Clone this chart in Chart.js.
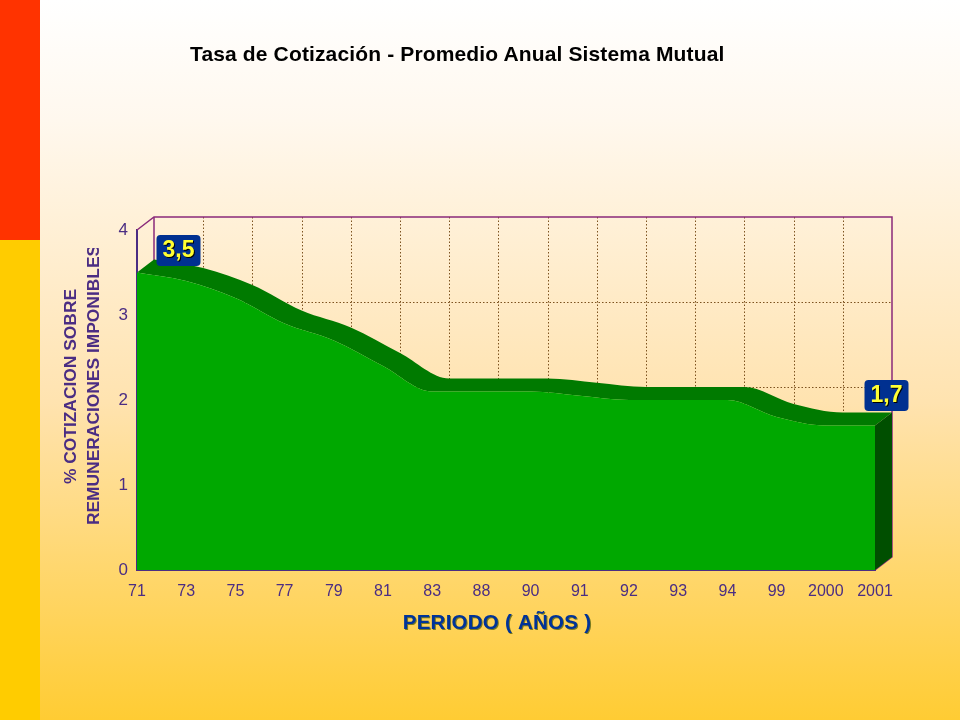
<!DOCTYPE html>
<html><head><meta charset="utf-8">
<script src="https://cdn.jsdelivr.net/npm/chart.js@4/dist/chart.umd.js"></script>
<style>
html,body{margin:0;padding:0;width:960px;height:720px;overflow:hidden}
#bg{position:absolute;left:0;top:0;width:960px;height:720px;background:linear-gradient(180deg,#ffffff 0,#fff8ee 120px,#ffe3b0 400px,#ffcc33 720px)}
#s1{position:absolute;left:0;top:0;width:40px;height:240px;background:#ff3300}
#s2{position:absolute;left:0;top:240px;width:40px;height:480px;background:#ffcc00}
#t{position:absolute;left:190px;top:42px;font:bold 21px "Liberation Sans",Arial,sans-serif;letter-spacing:.14px;color:#000;white-space:nowrap}
#wrap{position:absolute;left:0;top:0;width:960px;height:720px}
canvas{position:absolute;left:0;top:0;display:block}
</style></head><body>
<div id="bg"></div><div id="s1"></div><div id="s2"></div>
<div id="wrap"><canvas id="c" width="960" height="720"></canvas></div>
<div id="t">Tasa de Cotización - Promedio Anual Sistema Mutual</div>
<script>
const categories=['71','73','75','77','79','81','83','88','90','91','92','93','94','99','2000','2001'];
const rates=[3.5,3.4,3.2,2.9,2.7,2.4,2.1,2.1,2.1,2.05,2.0,2.0,2.0,1.8,1.7,1.7];
const yTicks=[0,1,2,3,4];
const labelled=[0,15];
const yTitleLines=['% COTIZACION SOBRE','REMUNERACIONES IMPONIBLES'];
const xTitle='PERIODO ( AÑOS )';
const DX=17,DY=-13,AXIS='#4b2d83';
const F='"Liberation Sans",Arial,sans-serif';

function curve(ctx,pts,dx,dy,rev){
  if(!rev){
    for(let i=1;i<pts.length;i++){const a=pts[i-1],b=pts[i];
      ctx.bezierCurveTo(a.cp2x+dx,a.cp2y+dy,b.cp1x+dx,b.cp1y+dy,b.x+dx,b.y+dy);}
  }else{
    for(let i=pts.length-1;i>0;i--){const a=pts[i-1],b=pts[i];
      ctx.bezierCurveTo(b.cp1x+dx,b.cp1y+dy,a.cp2x+dx,a.cp2y+dy,a.x+dx,a.y+dy);}
  }
}
const wall={id:'wall',
  beforeDatasetsDraw(ch){
    const c=ch.ctx,x=ch.scales.x,y=ch.scales.y,L=x.left,R=x.right,T=y.top,B=y.bottom;
    c.save();
    c.setLineDash([1.5,2]);c.lineWidth=1;c.strokeStyle='#7d5320';
    categories.forEach((k,i)=>{const px=Math.round(x.getPixelForValue(i))+DX+.5;
      if(i===0||i===categories.length-1)return;
      c.beginPath();c.moveTo(px,T+DY);c.lineTo(px,B+DY);c.stroke();});
    yTicks.forEach(v=>{if(v===0||v===4)return;const py=Math.round(y.getPixelForValue(v))+DY+.5;
      c.beginPath();c.moveTo(L+DX,py);c.lineTo(R+DX,py);c.stroke();});
    c.setLineDash([]);
    c.strokeStyle='#8a2a7a';c.lineWidth=1.5;
    c.beginPath();c.moveTo(L,T);c.lineTo(L+DX,T+DY);c.lineTo(R+DX,T+DY);c.lineTo(R+DX,B+DY);c.lineTo(R,B);c.stroke();
    c.beginPath();c.moveTo(L+DX,T+DY);c.lineTo(L+DX,B+DY);c.stroke();
    const pts=ch.getDatasetMeta(0).data;
    c.fillStyle='#007a00';
    c.beginPath();c.moveTo(pts[0].x,pts[0].y);curve(c,pts,0,0,false);
    const l=pts[pts.length-1];
    c.lineTo(l.x+DX,l.y+DY);curve(c,pts,DX,DY,true);c.closePath();c.fill();
    c.fillStyle='#004f00';
    c.beginPath();c.moveTo(l.x,l.y);c.lineTo(l.x+DX,l.y+DY);c.lineTo(R+DX,B+DY);c.lineTo(R,B);c.closePath();c.fill();
    c.restore();
  },
  afterDraw(ch){
    const c=ch.ctx,pts=ch.getDatasetMeta(0).data;
    c.save();
    c.fillStyle=AXIS;c.font='bold 17.4px '+F;c.textAlign='center';c.textBaseline='middle';
    c.save();c.beginPath();c.rect(55,248,47,300);c.clip();
    c.translate(71,386.5);c.rotate(-Math.PI/2);c.fillText(yTitleLines[0],0,0);
    c.restore();
    c.save();c.beginPath();c.rect(55,248,47,300);c.clip();
    c.translate(94,385);c.rotate(-Math.PI/2);c.fillText(yTitleLines[1],0,0);
    c.restore();
    c.font='bold 20.5px '+F;c.letterSpacing='.25px';c.fillStyle='#7a7a20';c.fillText(xTitle,498,624);
    c.fillStyle='#003399';c.fillText(xTitle,497,623);
    c.letterSpacing='0px';
    const off={0:[41.5,-22],15:[11.5,-30]};
    labelled.forEach(i=>{const p=pts[i],cx=p.x+off[i][0],cy=p.y+off[i][1];
      c.fillStyle='#003090';c.beginPath();c.roundRect(cx-22,cy-15.5,44,31,4);c.fill();
      const s=rates[i].toFixed(1).replace('.',',');
      c.font='bold 23px '+F;
      c.fillStyle='#000';c.fillText(s,cx+1,cy+1.5);
      c.fillStyle='#ffff33';c.fillText(s,cx,cy);});
    c.restore();
  }};
new Chart(document.getElementById('c'),{
  type:'line',
  data:{labels:categories,datasets:[{data:rates,fill:'origin',backgroundColor:'#00a800',borderWidth:0,pointRadius:0,cubicInterpolationMode:'monotone'}]},
  plugins:[wall],
  options:{responsive:false,animation:false,devicePixelRatio:1,
    layout:{padding:{left:0,top:230,right:85,bottom:0}},
    plugins:{legend:{display:false},title:{display:false},tooltip:{enabled:false}},
    scales:{
      x:{type:'category',offset:false,z:1,
        afterFit(a){a.height=150;},
        grid:{display:false,drawTicks:true,tickColor:AXIS,tickWidth:2,tickLength:6},
        border:{color:AXIS,width:2},
        ticks:{color:AXIS,font:{family:F,size:16},maxRotation:0,autoSkip:false,padding:6}},
      y:{min:0,max:4,z:1,
        afterFit(a){a.width=137;},
        afterBuildTicks(a){a.ticks=yTicks.map(v=>({value:v}));},
        grid:{display:false,tickColor:AXIS,tickWidth:2,tickLength:7},
        border:{color:AXIS,width:2},
        ticks:{color:AXIS,font:{family:F,size:17},padding:2}}
    }
  }
});
</script>
</body></html>
